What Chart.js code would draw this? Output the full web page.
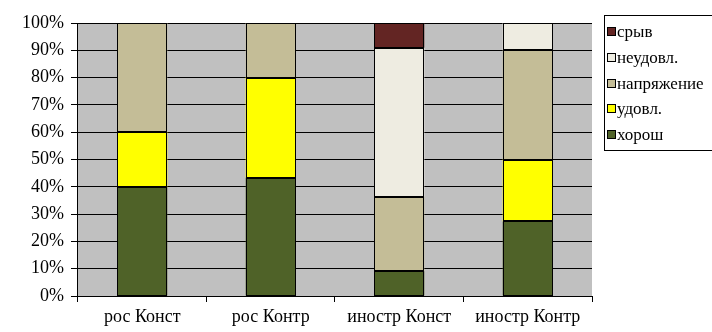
<!DOCTYPE html>
<html>
<head>
<meta charset="utf-8">
<script src="https://cdn.jsdelivr.net/npm/chart.js@4"></script>
<style>
  html, body { margin: 0; padding: 0; background: #fff; }
  #wrap { width: 712px; height: 332px; }
</style>
</head>
<body>
<div id="wrap"><canvas id="chart" width="712" height="332"></canvas></div>
<script>
const categories = ["рос Конст", "рос Контр", "иностр Конст", "иностр Контр"];
const yTicks = [0, 10, 20, 30, 40, 50, 60, 70, 80, 90, 100];

// values in %, bottom to top
const khorosh = [40, 43.3, 9.1, 27.3];
const udovl = [20, 36.7, 0, 22.7];
const napryazhenie = [40, 20, 27.3, 40];
const neudovl = [0, 0, 54.5, 10];
const sryv = [0, 0, 9.1, 0];

const seriesNames = ["хорош", "удовл.", "напряжение", "неудовл.", "срыв"];
const seriesColors = ["#4F6228", "#FFFF00", "#C4BD97", "#EEECE1", "#632523"];
const seriesData = [khorosh, udovl, napryazhenie, neudovl, sryv];

const SERIF = "'Times New Roman', 'Liberation Serif', serif";

const plotBackground = {
  id: "plotBackground",
  beforeDraw(chart) {
    const { ctx, chartArea } = chart;
    ctx.save();
    ctx.fillStyle = "#C0C0C0";
    ctx.fillRect(chartArea.left, chartArea.top,
      chartArea.right - chartArea.left, chartArea.bottom - chartArea.top);
    ctx.restore();
  },
};

// sharp black outline round every bar segment
const barOutline = {
  id: "barOutline",
  afterDatasetsDraw(chart) {
    const ctx = chart.ctx;
    ctx.save();
    ctx.strokeStyle = "#000";
    ctx.lineWidth = 1;
    chart.data.datasets.forEach((ds, i) => {
      chart.getDatasetMeta(i).data.forEach(bar => {
        if (bar.skip || bar.y == null || isNaN(bar.y)) return;
        const { x, y, base, width } = bar.getProps(["x", "y", "base", "width"]);
        const l = Math.round(x - width / 2) + 0.5;
        const r = Math.round(x + width / 2) - 0.5;
        const t = Math.round(Math.min(y, base)) + 0.5;
        const b = Math.round(Math.max(y, base)) - 0.5;
        ctx.strokeRect(l, t, r - l, b - t);
      });
    });
    ctx.restore();
  },
};

// legend box like the old Excel one, top item is the last series
const boxLegend = {
  id: "boxLegend",
  afterDraw(chart) {
    const ctx = chart.ctx;
    ctx.save();
    ctx.strokeStyle = "#000";
    ctx.lineWidth = 1;
    ctx.strokeRect(604.5, 15.5, 120, 135);
    ctx.font = "17px " + SERIF;
    ctx.textBaseline = "middle";
    const sets = chart.data.datasets.slice().reverse();
    sets.forEach((ds, i) => {
      const y = Math.round(32 + i * 25.8);
      ctx.fillStyle = ds.backgroundColor;
      ctx.fillRect(607.5, y - 4.5, 8, 8);
      ctx.strokeRect(607.5, y - 4.5, 8, 8);
      ctx.fillStyle = "#000";
      ctx.fillText(ds.label, 617, y + 1);
    });
    ctx.restore();
  },
};

new Chart(document.getElementById("chart").getContext("2d"), {
  type: "bar",
  data: {
    labels: categories,
    datasets: seriesNames.map((name, i) => ({
      label: name,
      data: seriesData[i].map(v => (v === 0 ? null : v)),
      backgroundColor: seriesColors[i],
      borderWidth: 0,
      categoryPercentage: 1,
      barPercentage: 0.39,
    })),
  },
  options: {
    responsive: false,
    animation: false,
    layout: { padding: { top: 23, right: 120, bottom: 0, left: 15 } },
    plugins: {
      legend: { display: false },
      tooltip: { enabled: false },
    },
    scales: {
      x: {
        stacked: true,
        grid: {
          offset: true,
          drawOnChartArea: false,
          drawTicks: true,
          tickLength: 6,
          color: "#000",
        },
        border: { color: "#000", width: 1 },
        ticks: {
          color: "#000",
          font: { family: SERIF, size: 18, lineHeight: 1 },
          padding: 6,
          maxRotation: 0,
          autoSkip: false,
        },
      },
      y: {
        stacked: true,
        min: 0,
        max: 100,
        afterBuildTicks(axis) {
          axis.ticks = yTicks.map(v => ({ value: v }));
        },
        grid: {
          color: "#000",
          lineWidth: 1,
          drawTicks: true,
          tickLength: 7,
        },
        border: { color: "#000", width: 1 },
        ticks: {
          color: "#000",
          font: { family: SERIF, size: 18 },
          padding: 7,
          callback: v => v + "%",
        },
      },
    },
  },
  plugins: [plotBackground, barOutline, boxLegend],
});
</script>
</body>
</html>
